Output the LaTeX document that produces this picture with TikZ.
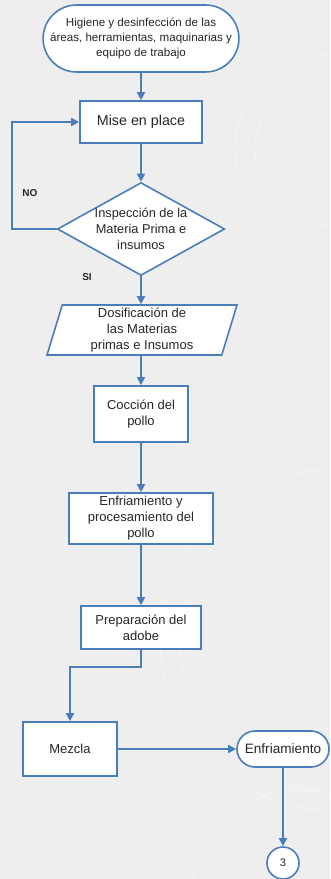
\documentclass[tikz,border=0pt]{standalone}
\usepackage{fontspec}
\setmainfont{Liberation Sans}
\usetikzlibrary{arrows.meta,shapes.geometric,shapes.misc}
\definecolor{bg}{HTML}{EEEEEE}
\definecolor{ln}{HTML}{4A7EBB}
\definecolor{txt}{HTML}{262626}
\begin{document}
\begin{tikzpicture}[x=1pt,y=-1pt,
  base/.style={draw=ln, line width=1.6pt, fill=white, text=txt, align=center, inner sep=0pt,
    font=\fontsize{13}{16}\selectfont},
  proc/.style={base, rectangle},
  term/.style={base, rounded rectangle},
  dec/.style={base, diamond, aspect=1.8},
  io/.style={base, trapezium, trapezium left angle=71, trapezium right angle=109, trapezium stretches body},
  con/.style={base, circle},
  arr/.style={draw=ln, line width=1.8pt, -{Triangle[length=8pt,width=8pt]}},
  lbl/.style={font=\fontsize{10}{12}\selectfont\bfseries, text=txt, inner sep=0pt}]
\fill[bg] (0,0) rectangle (330,879);
\useasboundingbox (0,0) rectangle (330,879);
\begin{scope}[draw=white, line width=0.7pt, opacity=0.45]
  \clip (0,0) rectangle (330,879);
  \draw (330,150) circle (95);
  \draw (330,150) circle (75);
  \draw (60,420) circle (120);
  \draw (330,640) circle (170);
  \draw (330,640) circle (150);
  \draw (300,900) circle (110);
\end{scope}
\node[term, minimum width=194pt, minimum height=67pt, font=\fontsize{11.6}{15}\selectfont] (hig) at (141,38.5)
  {Higiene y desinfección de las\\áreas, herramientas, maquinarias y\\equipo de trabajo};
\node[proc, minimum width=122pt, minimum height=42pt, font=\fontsize{14.3}{17}\selectfont] (mise) at (141,122) {Mise en place};
\node[dec, minimum width=160pt, minimum height=88pt, font=\fontsize{12.8}{16}\selectfont] (insp) at (141,229)
  {Inspección de la\\Materia Prima e\\insumos};
\node[io, minimum width=190pt, minimum height=50pt] (dos) at (142,330)
  {Dosificación de\\las Materias\\primas e Insumos};
\node[proc, minimum width=94pt, minimum height=56pt] (coc) at (141,414) {Cocción del\\pollo};
\node[proc, minimum width=144pt, minimum height=51pt] (enf) at (141,518.5) {Enfriamiento y\\procesamiento del\\pollo};
\node[proc, minimum width=120pt, minimum height=43pt] (prep) at (141,627.5) {Preparación del\\adobe};
\node[proc, minimum width=94pt, minimum height=54pt] (mez) at (70,749) {Mezcla};
\node[term, minimum width=92pt, minimum height=36pt, font=\fontsize{13.6}{16}\selectfont] (enf2) at (283,749) {Enfriamiento};
\node[con, minimum size=32pt, font=\fontsize{11}{13}\selectfont] (c3) at (283,863) {3};
\node[lbl] (no) at (30,193) {NO};
\node[lbl] (si) at (87,277) {SI};
\coordinate (lp) at (12,122);
\draw[arr] (hig.south) -- (mise.north);
\draw[arr] (mise.south) -- (insp.north);
\draw[arr] (insp.west) -| (lp) -- (mise.west);
\draw[arr] (insp.south) -- (insp.south |- dos.north);
\draw[arr] (dos.south -| coc.north) -- (coc.north);
\draw[arr] (coc.south) -- (enf.north);
\draw[arr] (enf.south) -- (prep.north);
\draw[arr] (prep.south) -- ++(0,17) -| (mez.north);
\draw[arr] (mez.east) -- (enf2.west);
\draw[arr] (enf2.south) -- (c3.north);
\end{tikzpicture}
\end{document}
